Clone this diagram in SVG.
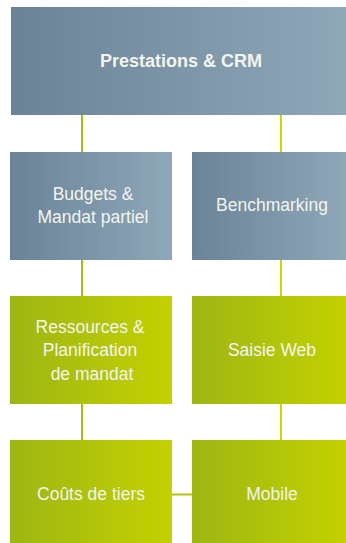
<svg xmlns="http://www.w3.org/2000/svg" width="346" height="543" viewBox="0 0 346 543">
<defs>
<linearGradient id="blue" x1="0" y1="0" x2="1" y2="0">
<stop offset="0" stop-color="#6a8396"/>
<stop offset="1" stop-color="#8ea8ba"/>
</linearGradient>
<linearGradient id="green" x1="0" y1="0" x2="1" y2="0">
<stop offset="0" stop-color="#9db614"/>
<stop offset="1" stop-color="#c3d100"/>
</linearGradient>
<style>
text{font-family:"Liberation Sans","Noto Sans",Arial,sans-serif;fill:#f4f4f0;text-anchor:middle;font-size:17.5px}
.b{font-weight:bold;font-size:18px}
.c{stroke-width:2;fill:none}
</style>
</defs>
<rect width="346" height="543" fill="#ffffff"/>
<g id="connectors">
<line class="c" x1="82" y1="115" x2="82" y2="440" stroke="#a8bc14"/>
<line class="c" x1="281" y1="115" x2="281" y2="440" stroke="#c8d800"/>
<line class="c" x1="172" y1="494.5" x2="192" y2="494.5" stroke="#b4c40c"/>
</g>
<g id="prestations">
<rect x="11" y="7" width="335" height="108" fill="url(#blue)"/>
<text class="b" x="181" y="67">Prestations &amp; CRM</text>
</g>
<g id="budgets">
<rect x="10" y="152" width="162" height="108" fill="url(#blue)"/>
<text x="93" y="200">Budgets &amp;</text>
<text x="93" y="223">Mandat partiel</text>
</g>
<g id="benchmarking">
<rect x="192" y="152" width="154" height="108" fill="url(#blue)"/>
<text x="272" y="211">Benchmarking</text>
</g>
<g id="ressources">
<rect x="10" y="296" width="162" height="108" fill="url(#green)"/>
<text x="90" y="333">Ressources &amp;</text>
<text x="90" y="356">Planification</text>
<text x="92" y="380">de mandat</text>
</g>
<g id="saisie">
<rect x="192" y="296" width="154" height="108" fill="url(#green)"/>
<text x="272" y="356">Saisie Web</text>
</g>
<g id="couts">
<rect x="10" y="440" width="162" height="103" fill="url(#green)"/>
<text x="91" y="500">Coûts de tiers</text>
</g>
<g id="mobile">
<rect x="192" y="440" width="154" height="103" fill="url(#green)"/>
<text x="272" y="500">Mobile</text>
</g>
</svg>
